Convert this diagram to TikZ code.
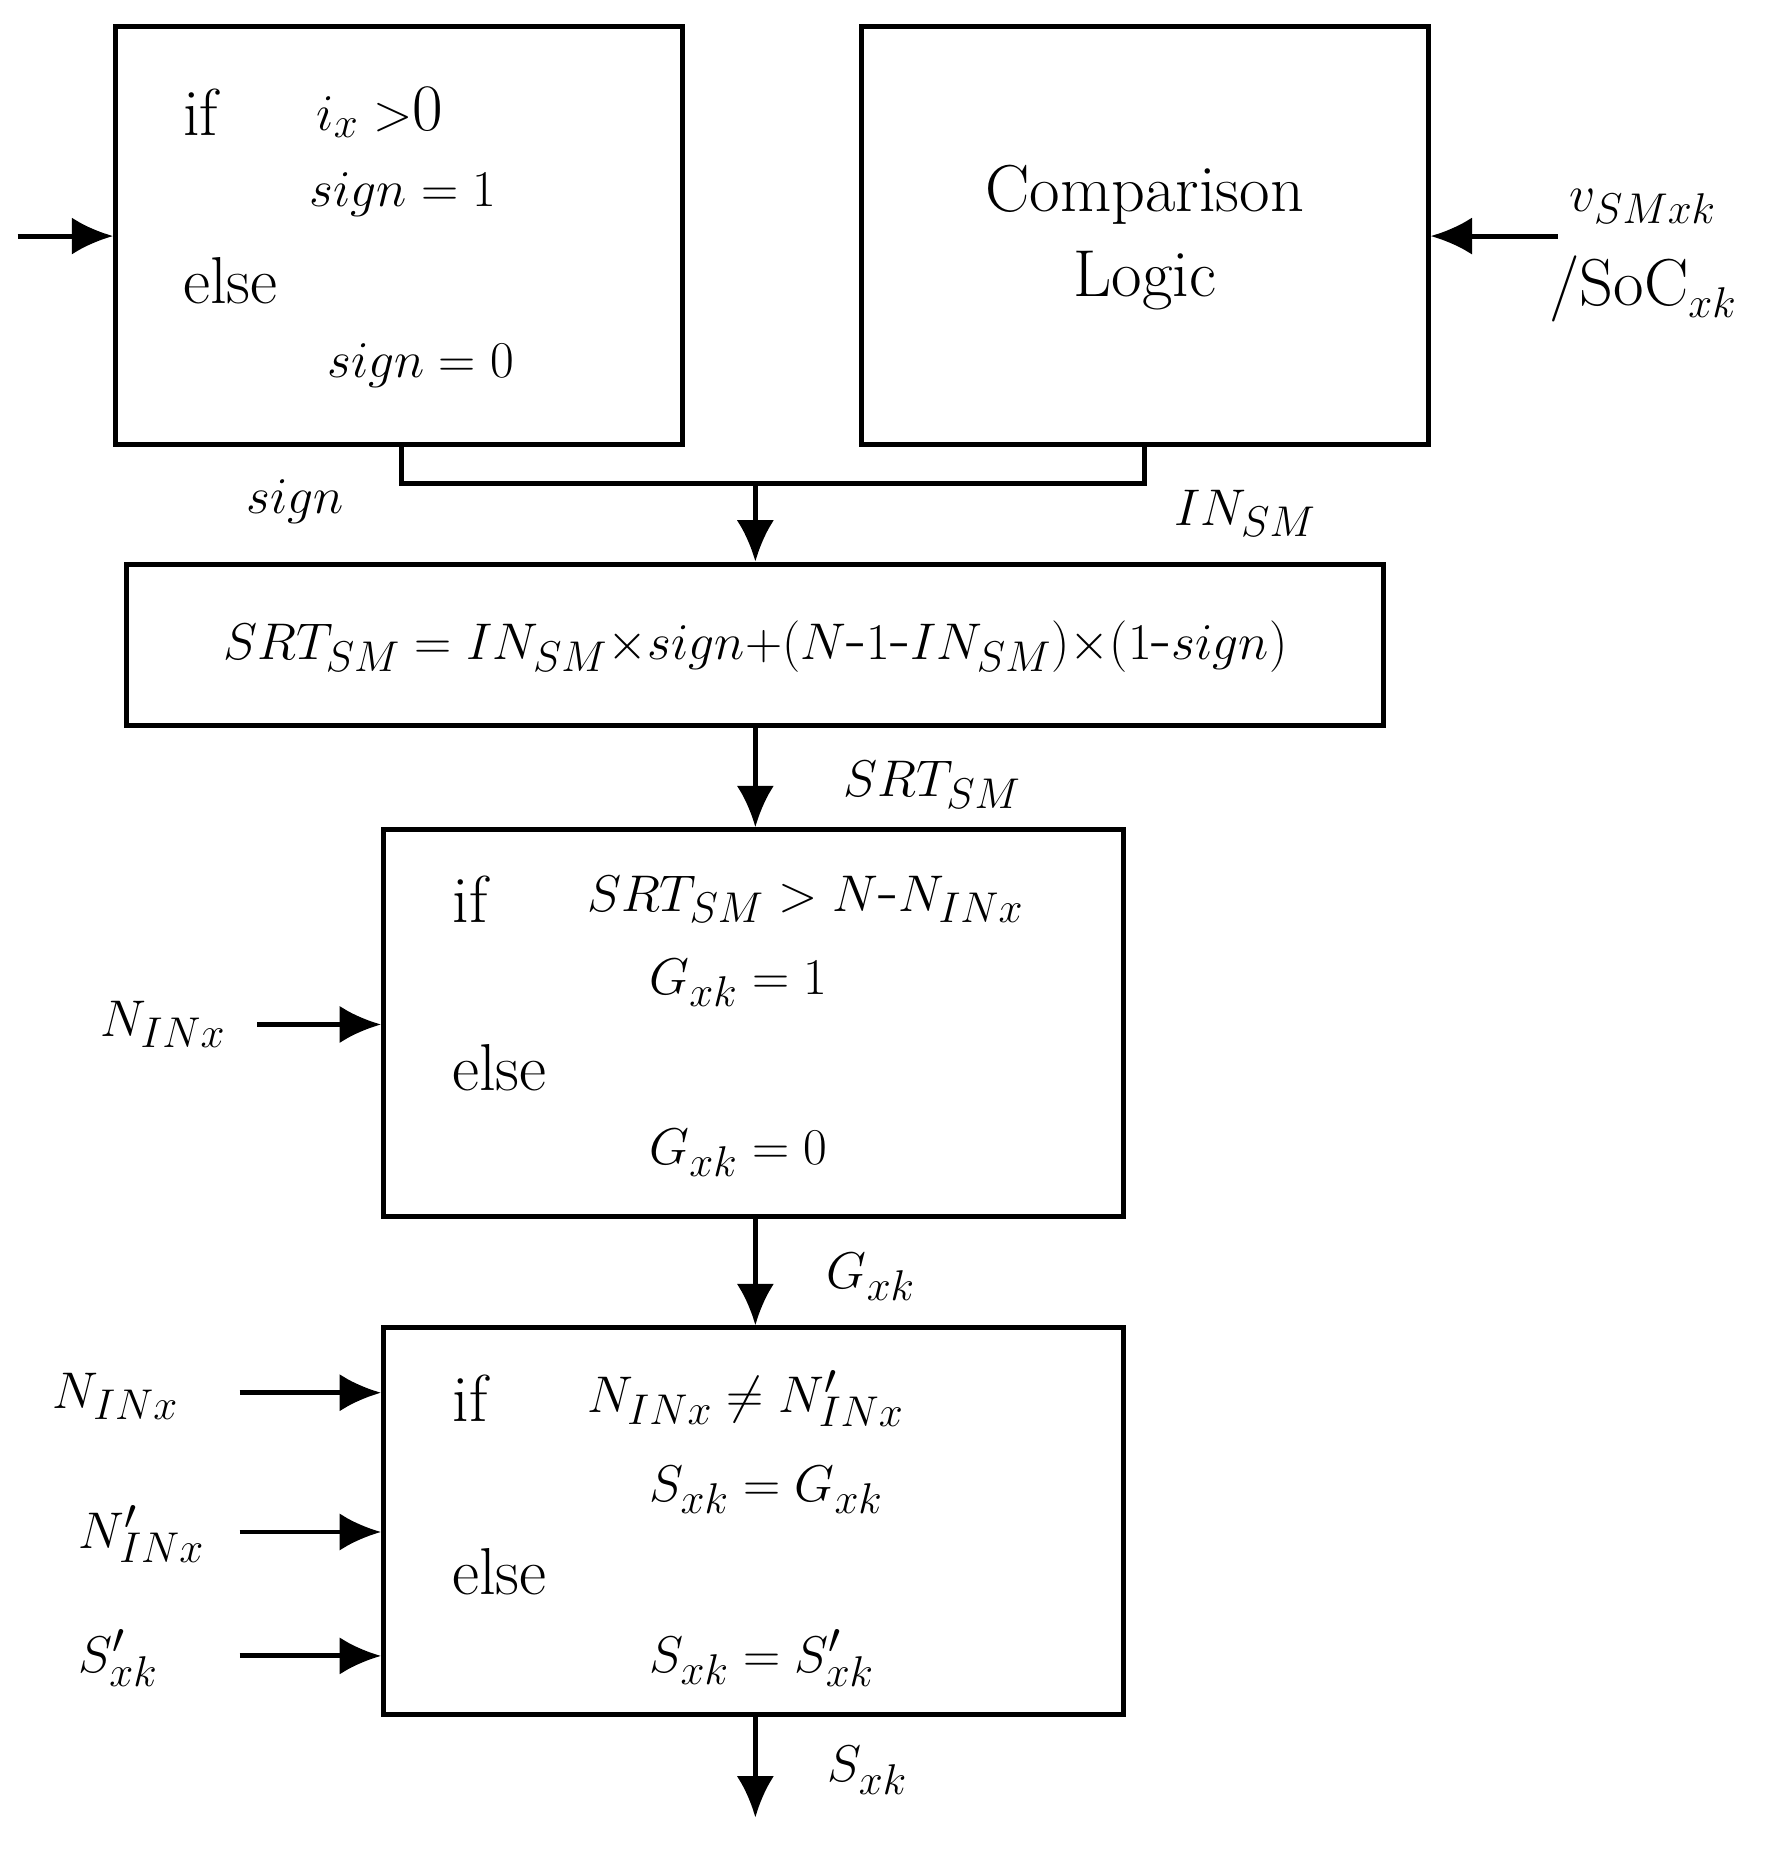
\documentclass[tikz,border=0pt]{standalone}
\usetikzlibrary{arrows.meta}
\newcommand{\hy}{\mbox{-}}
\begin{document}
\fontsize{32}{38}\selectfont
\begin{tikzpicture}[x=0.02cm,y=-0.02cm,
  box/.style={draw,line width=2.4pt,inner sep=0pt},
  arr/.style={line width=2.4pt,-{Latex[length=20pt,width=18pt]}},
  ln/.style={line width=2.4pt},
  txt/.style={anchor=west,inner sep=0pt}]
\useasboundingbox (0,0) rectangle (1500,1570);
\node[box,minimum width=9.6cm,minimum height=7.1cm] (b1) at (338,199.5) {};
\node[box,minimum width=9.6cm,minimum height=7.1cm] (b2) at (970,199.5) {};
\node[box,minimum width=21.3cm,minimum height=2.74cm] (b3) at (639.5,546.5) {};
\node[box,minimum width=12.54cm,minimum height=6.56cm] (b4) at (638.5,867) {};
\node[box,minimum width=12.54cm,minimum height=6.56cm] (b5) at (638.5,1289) {};
% box1 text
\node[txt] (t1a) at (155,95) {if};
\node[txt] (t1b) at (268,95) {$i_x>$0};
\node[txt] (t1c) at (262,165) {$sign=1$};
\node[txt] (t1d) at (155,238) {else};
\node[txt] (t1e) at (277,310) {$sign=0$};
\node (t2a) at (970,165) {Comparison};
\node (t2b) at (970,238) {Logic};
\node (t3) at (640,548) {$SRT_{SM}=IN_{SM}{\times}sign{+}(N\hy1\hy IN_{SM}){\times}(1\hy sign)$};
\node[txt] (t4a) at (383,762) {if};
\node[txt] (t4b) at (497,762) {$SRT_{SM}>N\hy N_{INx}$};
\node[txt] (t4c) at (550,833) {$G_{xk}=1$};
\node[txt] (t4d) at (383,905) {else};
\node[txt] (t4e) at (550,977) {$G_{xk}=0$};
\node[txt] (t5a) at (383,1185) {if};
\node[txt] (t5b) at (497,1185) {$N_{INx}\neq N'_{INx}$};
\node[txt] (t5c) at (550,1262) {$S_{xk}=G_{xk}$};
\node[txt] (t5d) at (383,1332) {else};
\node[txt] (t5e) at (550,1405) {$S_{xk}=S'_{xk}$};
% connectors
\coordinate (s1) at (340,377);
\coordinate (j1) at (340,410);
\coordinate (j2) at (970,410);
\coordinate (m) at (640,410);
\draw[ln] (b1.south -| s1) -- (j1) -- (j2) -- (b2.south);
\draw[arr] (m) -- (m |- b3.north);
\draw[arr] (b3.south -| m) -- (m |- b4.north);
\draw[arr] (b4.south -| m) -- (m |- b5.north);
\coordinate (out) at (640,1540);
\draw[arr] (b5.south -| m) -- (out);
\coordinate (in1) at (15,200);
\draw[arr] (in1) -- (in1 -| b1.west);
\coordinate (in2) at (1320,200);
\draw[arr] (in2) -- (in2 -| b2.east);
\coordinate (in3) at (218,868);
\draw[arr] (in3) -- (in3 -| b4.west);
\coordinate (in4) at (203,1180);
\draw[arr] (in4) -- (in4 -| b5.west);
\coordinate (in5) at (203,1298);
\draw[arr] (in5) -- (in5 -| b5.west);
\coordinate (in6) at (203,1403);
\draw[arr] (in6) -- (in6 -| b5.west);
% labels
\node (l1) at (250,425) {$sign$};
\node (l2) at (1055,435) {$IN_{SM}$};
\node (l3) at (790,665) {$SRT_{SM}$};
\node (l4) at (738,1082) {$G_{xk}$};
\node (l5) at (735,1500) {$S_{xk}$};
\node (l6) at (1392,175) {$v_{SMxk}$};
\node (l7) at (1392,245) {/SoC$_{xk}$};
\node (l8) at (138,868) {$N_{INx}$};
\node (l9) at (98,1183) {$N_{INx}$};
\node (l10) at (120,1300) {$N'_{INx}$};
\node (l11) at (100,1405) {$S'_{xk}$};
\end{tikzpicture}
\end{document}
